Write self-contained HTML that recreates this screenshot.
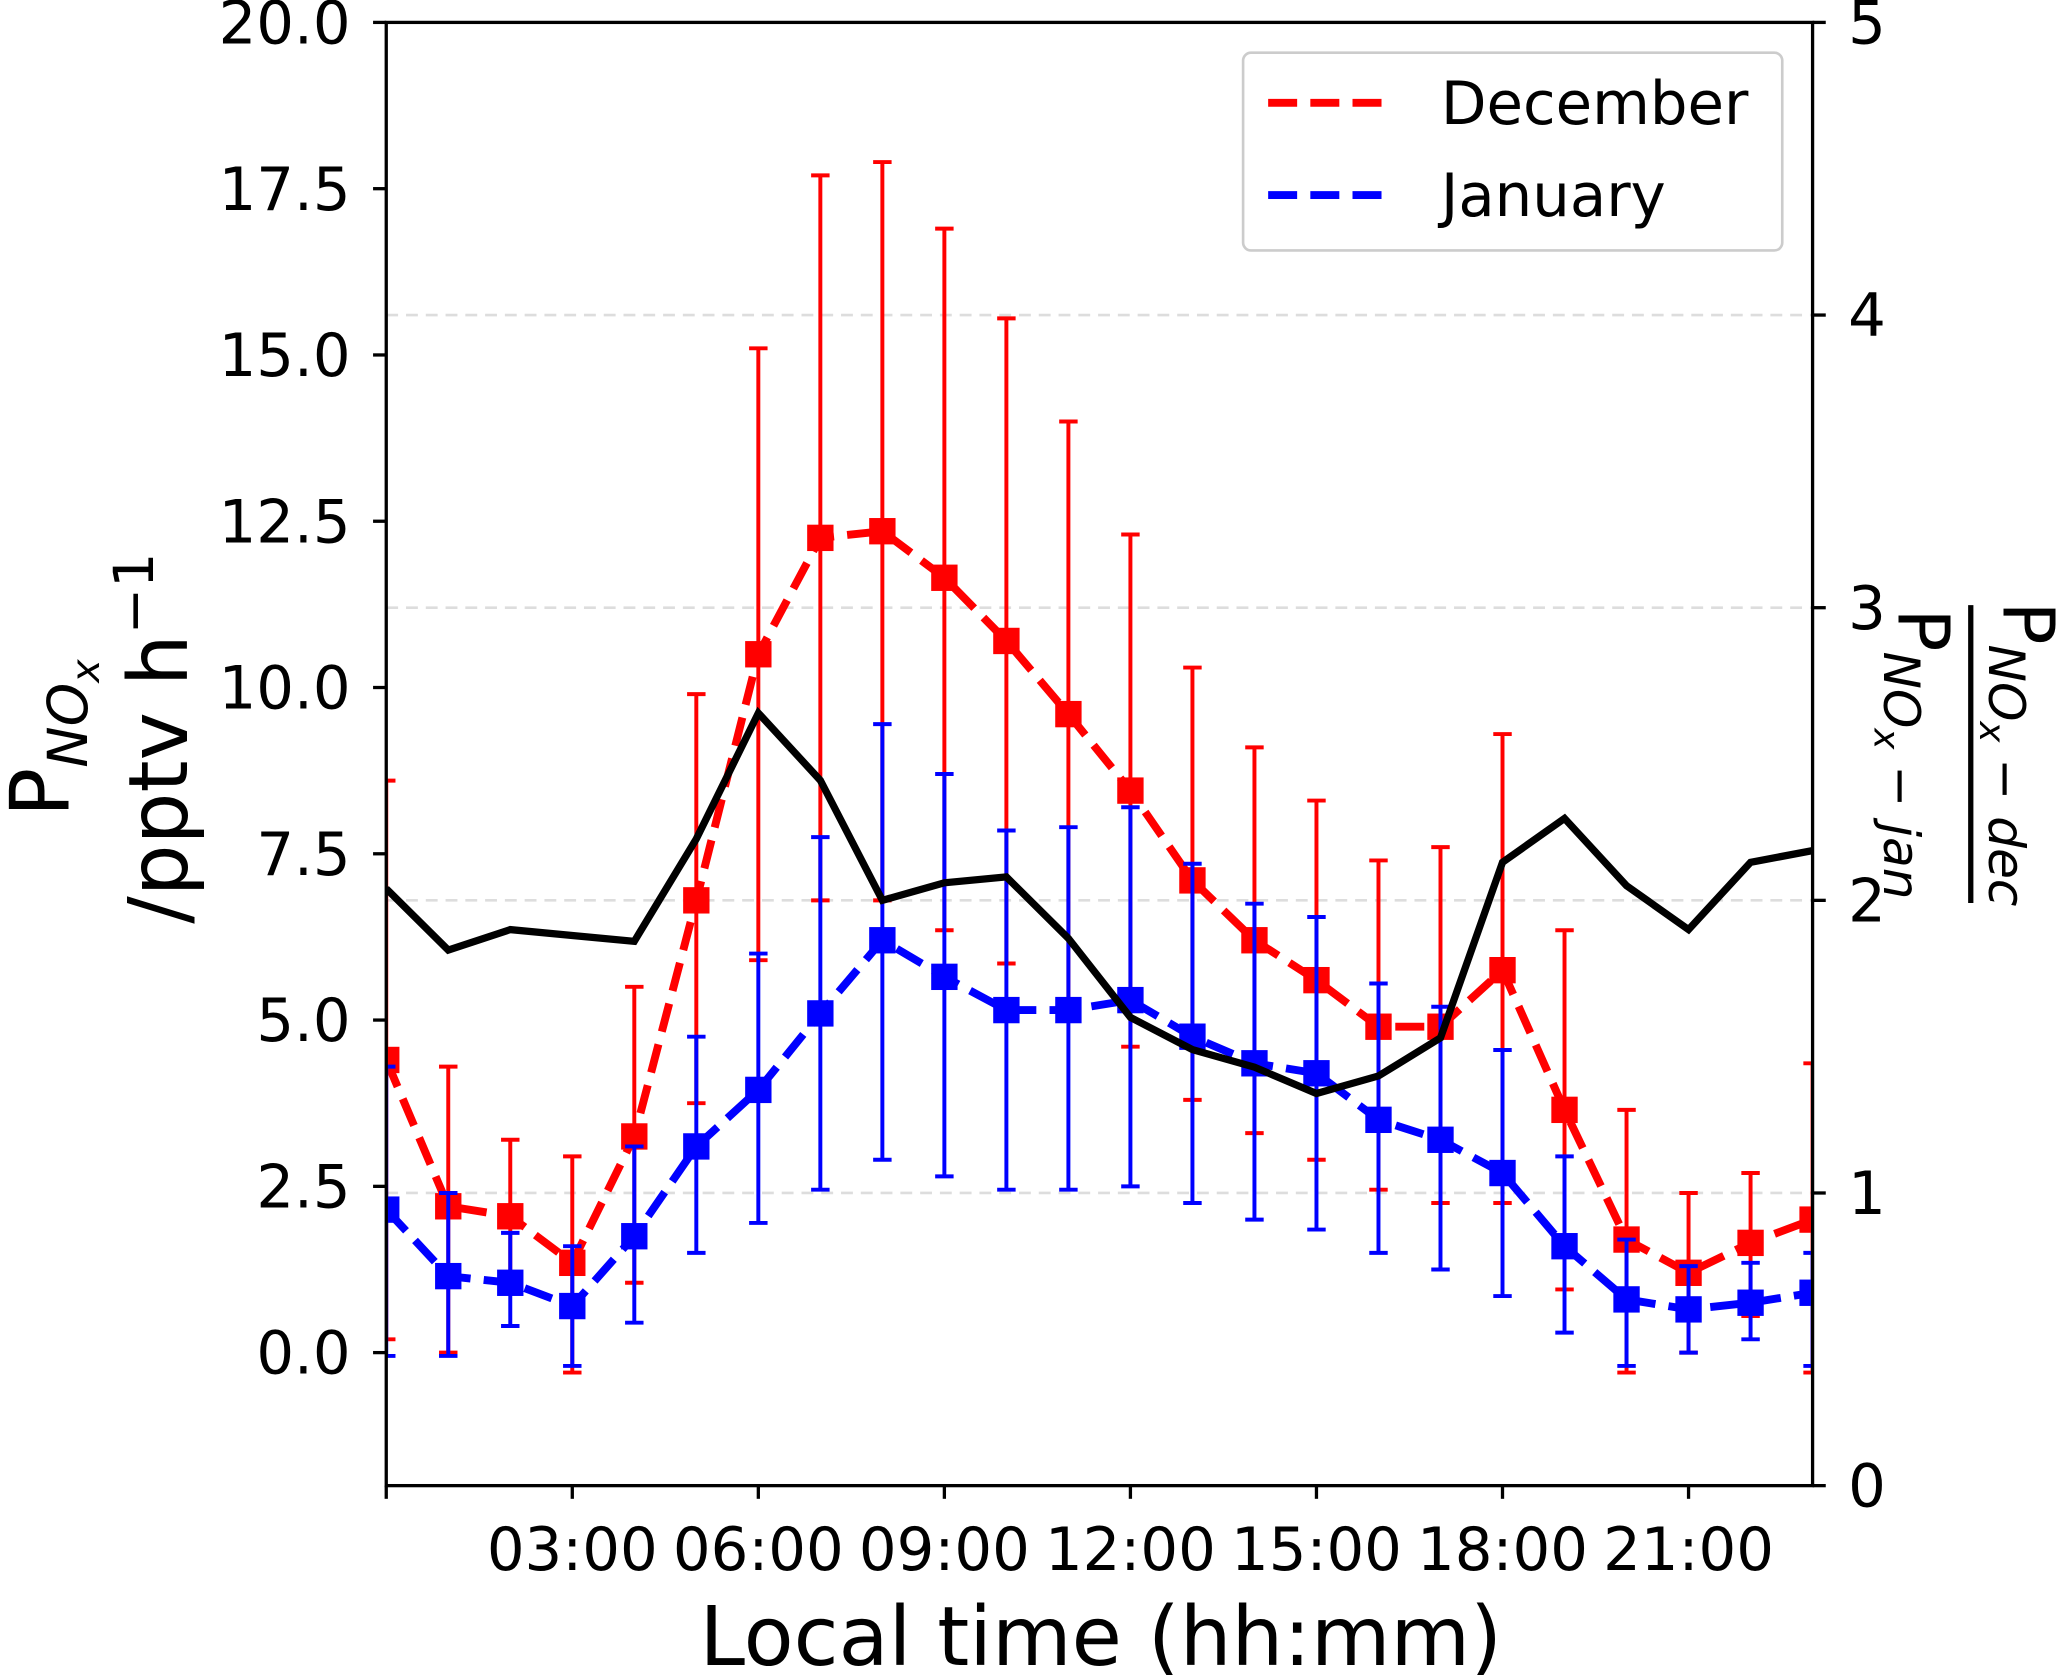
<!DOCTYPE html>
<html><head><meta charset="utf-8"><style>
html,body{margin:0;padding:0;background:#fff;}
svg{display:block;}
text{font-family:"DejaVu Sans","Liberation Sans",sans-serif;fill:#000;}
</style></head><body>
<svg id="chart" width="2067" height="1675" viewBox="0 0 1568 1270.65" preserveAspectRatio="none" xmlns="http://www.w3.org/2000/svg">
<defs><clipPath id="plotclip"><rect x="293" y="17" width="1082" height="1110"/></clipPath></defs>
<g id="grid"></g>
<g id="data" clip-path="url(#plotclip)"></g>
<g id="axes"></g>
<g>
<rect x="943" y="40" width="409" height="150" rx="6" fill="#fff" fill-opacity="0.8" stroke="#ccc" stroke-width="2"/>
<line x1="962" y1="78" x2="1052" y2="78" stroke="#f00" stroke-width="6" stroke-dasharray="22,10"/>
<text x="1093" y="94" font-size="45">December</text>
<line x1="962" y1="148" x2="1052" y2="148" stroke="#00f" stroke-width="6" stroke-dasharray="22,10"/>
<text x="1093" y="164" font-size="45">January</text>
</g>
<text x="835" y="1263" font-size="62" text-anchor="middle">Local time (hh:mm)</text>
<g transform="translate(52,560) rotate(-90)">
<text x="0" y="0" font-size="62" text-anchor="middle">P<tspan font-size="42" font-style="italic" dy="14">NO</tspan><tspan font-size="30" font-style="italic" dy="9">x</tspan></text>
<text x="0" y="90" font-size="62" text-anchor="middle">/pptv h<tspan font-size="42" dy="-26">−1</tspan></text>
</g>
<g transform="translate(1495,572) rotate(90)">
<text x="0" y="-25" font-size="54" text-anchor="middle">P<tspan font-size="38" font-style="italic" dy="11">NO</tspan><tspan font-size="27" font-style="italic" dy="7">x</tspan><tspan font-size="38" font-style="italic" dy="-7"> − dec</tspan></text>
<line x1="-113" y1="0" x2="113" y2="0" stroke="#000" stroke-width="4"/>
<text x="0" y="55" font-size="54" text-anchor="middle">P<tspan font-size="38" font-style="italic" dy="11">NO</tspan><tspan font-size="27" font-style="italic" dy="7">x</tspan><tspan font-size="38" font-style="italic" dy="-7"> − jan</tspan></text>
</g>
</svg>
<script>
const hours=[0,1,2,3,4,5,6,7,8,9,10,11,12,13,14,15,16,17,18,19,20,21,22,23];
const decMean=[4.4,2.2,2.05,1.35,3.25,6.8,10.5,12.25,12.35,11.65,10.7,9.6,8.45,7.1,6.2,5.6,4.9,4.9,5.75,3.65,1.7,1.2,1.65,2.0];
const decHigh=[8.6,4.3,3.2,2.95,5.5,9.9,15.1,17.7,17.9,16.9,15.55,14.0,12.3,10.3,9.1,8.3,7.4,7.6,9.3,6.35,3.65,2.4,2.7,4.35];
const decLow=[0.2,0.0,0.9,-0.3,1.05,3.75,5.9,6.8,6.8,6.35,5.85,5.2,4.6,3.8,3.3,2.9,2.45,2.25,2.25,0.95,-0.3,0.0,0.55,-0.3];
const janMean=[2.15,1.15,1.05,0.7,1.75,3.1,3.95,5.1,6.2,5.65,5.15,5.15,5.3,4.75,4.35,4.2,3.5,3.2,2.7,1.6,0.8,0.65,0.75,0.9];
const janHigh=[4.3,2.4,1.8,1.6,3.1,4.75,6.0,7.75,9.45,8.7,7.85,7.9,8.2,7.35,6.75,6.55,5.55,5.2,4.55,2.95,1.7,1.3,1.35,1.5];
const janLow=[-0.05,-0.05,0.4,-0.2,0.45,1.5,1.95,2.45,2.9,2.65,2.45,2.45,2.5,2.25,2.0,1.85,1.5,1.25,0.85,0.3,-0.2,0.0,0.2,-0.2];
const ratio=[2.04,1.83,1.90,1.88,1.86,2.21,2.64,2.41,2.0,2.06,2.08,1.87,1.60,1.49,1.43,1.34,1.40,1.53,2.13,2.28,2.05,1.90,2.13,2.17];
const leftTicks=[0,2.5,5,7.5,10,12.5,15,17.5,20];
const leftTickLabels=["0.0","2.5","5.0","7.5","10.0","12.5","15.0","17.5","20.0"];
const rightTicks=[0,1,2,3,4,5];
const xTicks=[0,3,6,9,12,15,18,21];
const xTickLabels=["","03:00","06:00","09:00","12:00","15:00","18:00","21:00"];

const X0=293,X1=1375,Y0=1127,Y1=17;
const xs=h=>X0+(h-0)/(23-0)*(X1-X0);
const yl=v=>Y0-(v-(-2))/(20-(-2))*(Y0-Y1);
const yr=v=>Y0-(v-0)/(5-0)*(Y0-Y1);
const NS="http://www.w3.org/2000/svg";
function mk(tag,attrs,parent){const e=document.createElementNS(NS,tag);for(const k in attrs)e.setAttribute(k,attrs[k]);parent.appendChild(e);return e;}
const grid=document.getElementById('grid'),data=document.getElementById('data'),axes=document.getElementById('axes');

rightTicks.forEach(t=>{if(t===0||t===5)return;
 const l=mk('line',{x1:X0,x2:X1,y1:yr(t),y2:yr(t),stroke:'#ddd','stroke-width':2,'stroke-dasharray':'9,6'},grid);
 
 });

function series(mean,hi,lo,color,name){
 const g=mk('g',{},data);
 
 
 hours.forEach((h,i)=>{const x=xs(h);
  const e=mk('line',{x1:x,x2:x,y1:yl(hi[i]),y2:yl(lo[i]),stroke:color,'stroke-width':3},g);
  
  
  [hi[i],lo[i]].forEach(v=>{const c=mk('line',{x1:x-7,x2:x+7,y1:yl(v),y2:yl(v),stroke:color,'stroke-width':3},g);
   
   });});
 const p=mk('polyline',{points:hours.map((h,i)=>xs(h)+','+yl(mean[i])).join(' '),fill:'none',stroke:color,'stroke-width':6,'stroke-dasharray':'22,10'},g);
 
 
 hours.forEach((h,i)=>{const r=mk('rect',{x:xs(h)-10,y:yl(mean[i])-10,width:20,height:20,fill:color},g);
  
  });
}
series(decMean,decHigh,decLow,'#f00','december');
series(janMean,janHigh,janLow,'#00f','january');
const rl=mk('polyline',{points:hours.map((h,i)=>xs(h)+','+yr(ratio[i])).join(' '),fill:'none',stroke:'#000','stroke-width':5.5,'stroke-linejoin':'miter'},data);



const frame=mk('rect',{x:X0,y:Y1,width:X1-X0,height:Y0-Y1,fill:'none',stroke:'#000','stroke-width':2.5},axes);


leftTicks.forEach((t,i)=>{const y=yl(t);
 const l=mk('line',{x1:X0-10,x2:X0,y1:y,y2:y,stroke:'#000','stroke-width':2.5},axes);
 
 
 const tx=mk('text',{x:X0-27,y:y+16,'font-size':45,'text-anchor':'end'},axes);tx.textContent=leftTickLabels[i];
 
 });
rightTicks.forEach(t=>{const y=yr(t);
 const l=mk('line',{x1:X1,x2:X1+10,y1:y,y2:y,stroke:'#000','stroke-width':2.5},axes);
 
 
 const tx=mk('text',{x:X1+27,y:y+16,'font-size':45},axes);tx.textContent=String(t);
 
 });
xTicks.forEach((t,i)=>{const x=xs(t);
 const l=mk('line',{x1:x,x2:x,y1:Y0,y2:Y0+10,stroke:'#000','stroke-width':2.5},axes);
 
 
 const tx=mk('text',{x:x,y:Y0+64,'font-size':45,'text-anchor':'middle'},axes);tx.textContent=xTickLabels[i];
 
 });
</script>
</body></html>
